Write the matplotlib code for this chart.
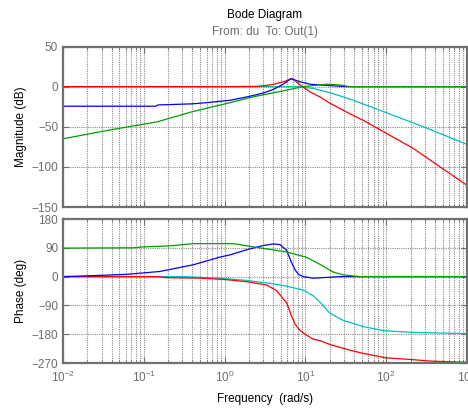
import numpy as np
import matplotlib
matplotlib.use("Agg")
import matplotlib.pyplot as plt
from matplotlib.ticker import LogLocator, NullFormatter, FixedLocator

plt.rcParams['font.family'] = ['Liberation Sans', 'DejaVu Sans']
plt.rcParams['mathtext.default'] = 'regular'

# values (rad/s, dB, deg)
red_w_mag = [0.01, 1.0, 2.5, 3.0, 4.0, 5.3, 6.4, 6.8, 7.5, 8.6, 10, 11.4, 15.2, 20, 35.6, 52, 92, 216, 464, 1000]
red_mag = [0, 0, 0.3, 1.0, 2.7, 6, 9, 10, 7, 2, -2.5, -6.5, -13, -20.5, -34, -42, -56, -77, -100, -123]
red_w_ph = [0.01, 0.15, 0.18, 0.5, 1.0, 1.88, 3.3, 4.4, 5.86, 6.7, 7.5, 8.5, 9.9, 12.5, 15.2, 20, 35.6, 52, 100, 200, 350, 1000]
red_ph = [0, 0, -3, -5, -9, -16, -26, -44, -82, -122, -150, -167, -180, -196, -200, -212, -230, -240, -254, -259, -264, -268]

blue_w_mag = [0.01, 0.14, 0.15, 0.39, 0.6, 1.17, 2.06, 3.0, 4.0, 5.3, 6.64, 8.6, 11.4, 18.4, 32, 1000]
blue_mag = [-24.4, -24.4, -22.8, -21.5, -20, -17, -12, -8, -3.5, 3, 10, 6, 3, 1.5, 0, 0]
blue_w_ph = [0.01, 0.024, 0.061, 0.158, 0.41, 0.877, 1.17, 1.88, 3.0, 4.0, 4.85, 5.86, 6.7, 7.5, 8.2, 9.4, 12.5, 20, 27, 1000]
blue_ph = [0, 3, 7, 16, 37, 61, 68, 84, 97, 102, 100, 82, 45, 20, 7, 0, -5, -2, 0, 0]

green_w_mag = [0.01, 0.038, 0.145, 0.39, 0.72, 1.17, 2.26, 5.86, 9.4, 18.4, 26.8, 35, 1000]
green_mag = [-65, -54, -44, -31.5, -25, -20, -12.7, -4.4, 0, 3, 2, 0, 0]
green_w_ph = [0.01, 0.074, 0.1, 0.21, 0.41, 1.28, 2.26, 5.86, 10.4, 15.2, 22.2, 30, 47, 1000]
green_ph = [89, 90, 93, 96, 103, 103, 93, 77, 60, 38, 14, 5, 0, 0]

cyan_w_mag = [0.01, 8, 12.5, 20, 32, 39, 92, 288, 1000]
cyan_mag = [0, 0, -2.3, -7.5, -14, -17, -31, -50, -72]
cyan_w_ph = [0.01, 0.3, 0.877, 1.88, 3.65, 5.86, 9.4, 12.5, 15.2, 20, 29.4, 52, 92, 197, 1000]
cyan_ph = [0, 0, -5, -12, -21, -30, -42, -60, -80, -114, -137, -156, -169, -174, -178]

mag_ticks = [-150, -100, -50, 0, 50]
ph_ticks = [-270, -180, -90, 0, 90, 180]

gray = '#6e6e6e'
lw = 0.9

fig = plt.figure(figsize=(4.68, 4.08), dpi=100)
ax1 = fig.add_axes([63/468, 1-207/408, 404/468, 160.5/408])
ax2 = fig.add_axes([63/468, 1-363/408, 404/468, 144/408])


def style(ax, yticks):
    ax.set_xscale('log')
    ax.set_xlim(1e-2, 1e3)
    ax.set_ylim(yticks[0], yticks[-1])
    ax.yaxis.set_major_locator(FixedLocator(yticks))
    ax.xaxis.set_major_locator(LogLocator(base=10, numticks=10))
    ax.xaxis.set_minor_locator(LogLocator(base=10, subs=np.arange(2, 10), numticks=20))
    ax.xaxis.set_minor_formatter(NullFormatter())
    ax.grid(True, which='major', color='#8a8a8a', linestyle=(0, (1, 1)), linewidth=0.8)
    ax.grid(True, which='minor', axis='x', color='#8a8a8a', linestyle=(0, (1, 1)), linewidth=0.8)
    ax.tick_params(which='both', direction='in', top=True, right=True, colors=gray,
                   labelsize=8.5, labelcolor=gray)
    ax.tick_params(which='major', length=4, width=0.8)
    ax.tick_params(which='minor', length=2.5, width=0.6)
    for s in ax.spines.values():
        s.set_color('#707070')
        s.set_linewidth(1.6)


style(ax1, mag_ticks)
style(ax2, ph_ticks)
ax1.set_xticklabels([])
ax2.tick_params(axis='x', pad=5)

ax1.plot(cyan_w_mag, cyan_mag, color=(0, 0.75, 0.75), lw=lw)
ax1.plot(red_w_mag, red_mag, color='red', lw=lw)
ax1.plot(blue_w_mag, blue_mag, color='blue', lw=lw)
ax1.plot(green_w_mag, green_mag, color=(0, 0.62, 0), lw=lw)

ax2.plot(cyan_w_ph, cyan_ph, color=(0, 0.75, 0.75), lw=lw)
ax2.plot(red_w_ph, red_ph, color='red', lw=lw)
ax2.plot(blue_w_ph, blue_ph, color='blue', lw=lw)
ax2.plot(green_w_ph, green_ph, color=(0, 0.62, 0), lw=lw)

ax1.set_ylabel('Magnitude (dB)', fontsize=8.5)
ax1.yaxis.set_label_coords(-0.09, 0.5)
ax2.set_ylabel('Phase (deg)', fontsize=8.5)
ax2.yaxis.set_label_coords(-0.09, 0.5)
ax2.set_xlabel('Frequency  (rad/s)', fontsize=8.5, labelpad=6)

cx = (63 + 202) / 468
fig.text(cx, 1-15/408, 'Bode Diagram', ha='center', va='center', fontsize=8.5)
fig.text(cx, 1-32/408, 'From: du  To: Out(1)', ha='center', va='center', fontsize=8.5, color=gray)

fig.savefig('out.png', dpi=100)
